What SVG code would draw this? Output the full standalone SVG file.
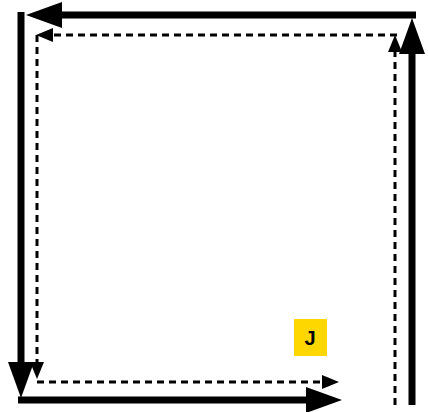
<svg xmlns="http://www.w3.org/2000/svg" width="428" height="412" viewBox="0 0 428 412">
<style>
.thick{fill:none;stroke:#000;stroke-width:7;marker-end:url(#big)}
.dash{fill:none;stroke:#000;stroke-width:3;stroke-dasharray:7 5;marker-end:url(#small)}
.lbl{font-family:"Liberation Sans",Arial,sans-serif;font-weight:bold;font-size:20px;text-anchor:middle;fill:#000}
</style>
<defs>
<marker id="big" viewBox="0 0 36 26" refX="2" refY="13" markerWidth="36" markerHeight="26" markerUnits="userSpaceOnUse" orient="auto">
<path d="M0,0 L36,13 L0,26 Z" fill="#000"/>
</marker>
<marker id="small" viewBox="0 0 17 14" refX="1" refY="7" markerWidth="17" markerHeight="14" markerUnits="userSpaceOnUse" orient="auto">
<path d="M0,0 L17,7 L0,14 Z" fill="#000"/>
</marker>
</defs>
<rect width="428" height="412" fill="#fff"/>
<g id="connectors">
<path class="thick" d="M416,15 L60,15"/>
<path class="thick" d="M21,12 L21,364"/>
<path class="thick" d="M18,400 L308,400"/>
<path class="thick" d="M412,405 L412,52"/>
<path class="dash" d="M397,35 L52,35"/>
<path class="dash" d="M37,35 L37,363"/>
<path class="dash" d="M37,382 L323,382"/>
<path class="dash" d="M395,405 L395,51"/>
</g>
<g id="node-J">
<rect x="294" y="319" width="33" height="37" fill="#FFD700"/>
<text class="lbl" x="310" y="345">J</text>
</g>
</svg>
